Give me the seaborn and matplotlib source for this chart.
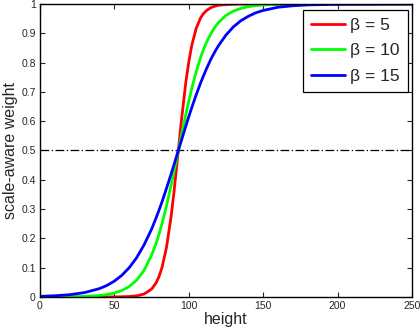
import numpy as np
import pandas as pd
import seaborn as sns
import matplotlib.pyplot as plt

# values
height = [0, 10, 20, 30, 40, 45, 50, 55, 60, 65, 70, 75, 78, 80, 82, 85, 88, 90, 93,
          95, 98, 100, 102, 105, 108, 110, 112, 115, 118, 120, 125, 130, 135, 140,
          145, 150, 160, 170, 180, 200, 250]
w_beta5 = [0, 0, 0, 0, 0, 0.0001, 0.0002, 0.0005, 0.0014, 0.0037, 0.0099, 0.0266,
           0.0474, 0.0691, 0.0998, 0.168, 0.269, 0.354, 0.5, 0.599, 0.731, 0.802,
           0.858, 0.917, 0.953, 0.968, 0.978, 0.988, 0.9933, 0.996, 0.998, 0.9994,
           0.9998, 1.0, 1.0, 1.0, 1.0, 1.0, 1.0, 1.0, 1.0]
w_beta10 = [0.0001, 0.00025, 0.0007, 0.0018, 0.005, 0.0081, 0.0134, 0.0219, 0.0356,
            0.0573, 0.0911, 0.142, 0.182, 0.214, 0.250, 0.310, 0.378, 0.426, 0.5,
            0.550, 0.622, 0.668, 0.711, 0.769, 0.818, 0.846, 0.870, 0.900, 0.924,
            0.937, 0.961, 0.976, 0.985, 0.991, 0.9945, 0.9967, 0.9988, 0.9995,
            0.9998, 1.0, 1.0]
w_beta15 = [0.002, 0.004, 0.0076, 0.0148, 0.0284, 0.0392, 0.0538, 0.0736, 0.0998,
            0.134, 0.178, 0.231, 0.269, 0.296, 0.324, 0.370, 0.417, 0.450, 0.5,
            0.533, 0.583, 0.615, 0.646, 0.690, 0.731, 0.756, 0.780, 0.813, 0.841,
            0.858, 0.894, 0.922, 0.943, 0.958, 0.970, 0.978, 0.989, 0.994, 0.997,
            0.999, 1.0]
labels = ["β = 5", "β = 10", "β = 15"]
colors = ["#ff0000", "#00ff00", "#0000ff"]

x_ticks = [0, 50, 100, 150, 200, 250]
y_ticks = [0, 0.1, 0.2, 0.3, 0.4, 0.5, 0.6, 0.7, 0.8, 0.9, 1]
y_ticklabels = ["0", "0.1", "0.2", "0.3", "0.4", "0.5", "0.6", "0.7", "0.8", "0.9", "1"]

df = pd.concat([
    pd.DataFrame({"height": height, "weight": w, "beta": lab})
    for w, lab in zip([w_beta5, w_beta10, w_beta15], labels)
])

sns.set_style("ticks")
plt.rcParams["font.family"] = ["Liberation Sans", "DejaVu Sans"]

fig = plt.figure(figsize=(4.2, 3.34), dpi=100)
ax = fig.add_axes([0.095, 0.111, 0.886, 0.877])

ax.axhline(0.5, color="black", lw=0.9, dashes=(7, 2, 1, 2))
sns.lineplot(data=df, x="height", y="weight", hue="beta", palette=dict(zip(labels, colors)),
             lw=2, ax=ax, estimator=None, sort=False)

ax.set_xlim(0, 250)
ax.set_ylim(0, 1)
ax.set_xticks(x_ticks)
ax.set_yticks(y_ticks)
ax.set_yticklabels(y_ticklabels)
ax.tick_params(direction="in", length=3.5, width=0.8, labelsize=7.5,
               top=True, right=True, pad=3)
for s in ax.spines.values():
    s.set_visible(True)
    s.set_linewidth(1)
    s.set_color("black")

ax.set_xlabel("height", fontsize=11.5, labelpad=1)
ax.set_ylabel("scale-aware weight", fontsize=11.5, labelpad=2)

leg = ax.legend(loc="upper right", bbox_to_anchor=(0.989, 0.98), borderaxespad=0,
                fontsize=12.5, fancybox=False, framealpha=1, edgecolor="black",
                handlelength=2.0, handletextpad=0.3, labelspacing=0.6,
                borderpad=0.45)
leg.get_frame().set_linewidth(0.9)

fig.savefig("out.png", dpi=100)
